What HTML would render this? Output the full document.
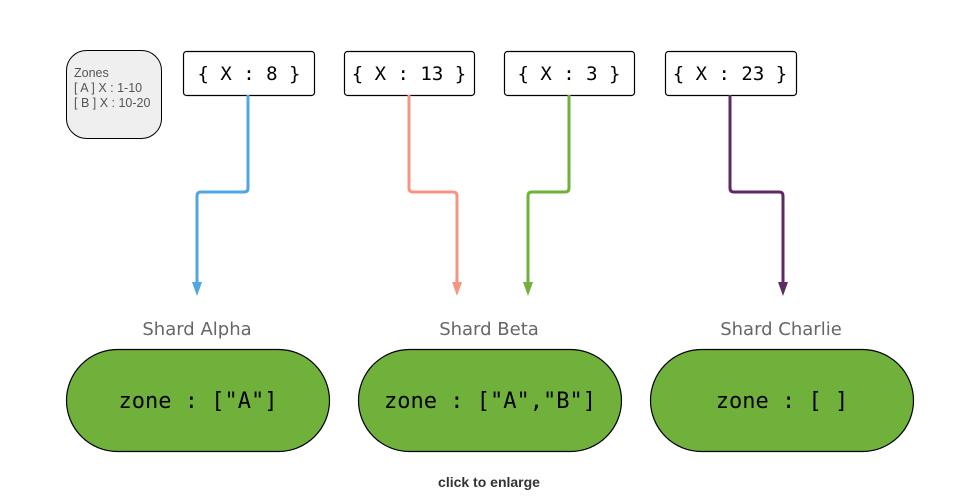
<!DOCTYPE html>
<html><head><style>body{margin:0;background:#fff}svg{display:block}</style></head><body>
<svg width="969" height="504" viewBox="0 0 969 504" xmlns="http://www.w3.org/2000/svg">
<rect x="66.5" y="50.5" width="95" height="88" rx="20" fill="#efefef" stroke="#000"/>
<text font-family="Liberation Sans, sans-serif" font-size="12.5" fill="#555"><tspan x="74" y="77">Zones</tspan><tspan x="74" y="92">[ A ] X :  1-10</tspan><tspan x="74" y="107">[ B ] X : 10-20</tspan></text>
<g fill="#fff" stroke="#000" stroke-width="1.2">
<rect x="183.5" y="51.5" width="131" height="44" rx="3"/>
<rect x="344.5" y="51.5" width="130" height="44" rx="3"/>
<rect x="504.5" y="51.5" width="130" height="44" rx="3"/>
<rect x="665.5" y="51.5" width="131" height="44" rx="3"/>
</g>
<g font-family="DejaVu Sans Mono, Liberation Mono, monospace" font-size="19" text-anchor="middle" fill="#000">
<text x="249" y="80">{ X : 8 }</text>
<text x="409" y="80">{ X : 13 }</text>
<text x="569" y="80">{ X : 3 }</text>
<text x="730" y="80">{ X : 23 }</text>
</g>
<g fill="none" stroke-width="3" stroke-linejoin="round">
<path d="M248 95 V188 Q248 192 244 192 H201 Q197 192 197 196 V284" stroke="#4fa6e0"/>
<path d="M409 95 V188 Q409 192 413 192 H453 Q457 192 457 196 V284" stroke="#f59582"/>
<path d="M569 95 V188 Q569 192 565 192 H532 Q528 192 528 196 V284" stroke="#6fb13b"/>
<path d="M730 95 V188 Q730 192 734 192 H779 Q783 192 783 196 V284" stroke="#5e2a63"/>
</g>
<polygon points="192,282 202,282 197,296" fill="#4fa6e0"/>
<polygon points="452,282 462,282 457,296" fill="#f59582"/>
<polygon points="523,282 533,282 528,296" fill="#6fb13b"/>
<polygon points="778,282 788,282 783,296" fill="#5e2a63"/>
<g font-family="DejaVu Sans, Liberation Sans, sans-serif" font-size="18" fill="#666" text-anchor="middle">
<text x="197" y="335">Shard Alpha</text>
<text x="489" y="335">Shard Beta</text>
<text x="781" y="335">Shard Charlie</text>
</g>
<g fill="#6fb13b" stroke="#000" stroke-width="1.2">
<rect x="66.5" y="349.5" width="263" height="102" rx="51"/>
<rect x="358.5" y="349.5" width="263" height="102" rx="51"/>
<rect x="650.5" y="349.5" width="263" height="102" rx="51"/>
</g>
<g font-family="DejaVu Sans Mono, Liberation Mono, monospace" font-size="22" text-anchor="middle" fill="#000">
<text x="198" y="408">zone : ["A"]</text>
<text x="490" y="408">zone : ["A","B"]</text>
<text x="782" y="408">zone : [ ]</text>
</g>
<text x="489" y="487" font-family="Liberation Sans, sans-serif" font-size="14" font-weight="bold" fill="#333" text-anchor="middle">click to enlarge</text>
</svg>
</body></html>
